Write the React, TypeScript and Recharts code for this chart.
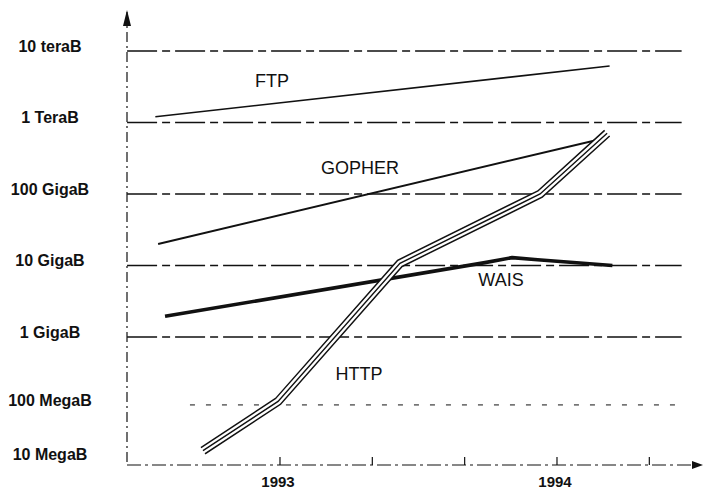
import React from 'react'
import { LineChart, Line, XAxis, YAxis, ReferenceLine, ReferenceDot } from 'recharts'

// x is the date as a fractional year, y is log10(bytes) as spaced in the drawing
const ftpX = [1992.55, 1994.19]
const ftpY = [12.08, 12.79]
const gopherX = [1992.56, 1994.16]
const gopherY = [10.3, 11.77]
const waisX = [1992.585, 1993.74, 1993.838, 1993.93, 1994.2]
const waisY = [9.29, 10.04, 10.11, 10.08, 10.0]
const httpX = [1992.722, 1992.993, 1993.433, 1993.939, 1994.181]
const httpY = [7.41, 8.1, 10.03, 11.0, 11.85]

// axis ticks and labels
const yTicks = [7.3, 8.05, 9, 10, 11, 12, 13]
const yLabels = ['10 MegaB', '100 MegaB', '1 GigaB', '10 GigaB', '100 GigaB', '1 TeraB', '10 teraB']
const xTicks = [1993, 1993 + 1 / 3, 1993 + 2 / 3, 1994, 1994 + 1 / 3]

// horizontal guide lines (level, first year, last year)
const gridLevels = [8.05, 9, 10, 11, 12, 13]
const gridFrom = [1992.675, 1992.448, 1992.448, 1992.448, 1992.448, 1992.448]
const gridTo = [1994.45, 1994.45, 1994.45, 1994.45, 1994.45, 1994.45]

// series names written inside the plot
const seriesNames = ['FTP', 'GOPHER', 'WAIS', 'HTTP']
const nameX = [1992.971, 1993.289, 1993.798, 1993.285]
const nameY = [12.58, 11.36, 9.8, 8.48]

const X_DOMAIN: [number, number] = [1992.4477, 1994.5235]
const Y_DOMAIN: [number, number] = [7.21, 13.545]

const INK = '#111'
const FONT = '"Liberation Sans", Arial, Helvetica, sans-serif'

const toPoints = (xs: number[], ys: number[]) => xs.map((x, i) => ({ x, y: ys[i] }))

const ftpData = toPoints(ftpX, ftpY)
const gopherData = toPoints(gopherX, gopherY)
const waisData = toPoints(waisX, waisY)
const httpData = toPoints(httpX, httpY)

const YTick = (props: any) => {
  const { x, y, payload } = props
  const idx = yTicks.indexOf(payload.value)
  return (
    <g>
      <text
        x={x - 77}
        y={y + 1}
        textAnchor="middle"
        fontFamily={FONT}
        fontWeight="bold"
        fontSize={16}
        fill={INK}
      >
        {yLabels[idx]}
      </text>
    </g>
  )
}

const XTick = (props: any) => {
  const { x, y, payload } = props
  const isYear = Math.abs(payload.value - Math.round(payload.value)) < 0.001
  return (
    <g>
      <line x1={x} y1={y} x2={x} y2={y - 8} stroke={INK} strokeWidth={1.2} />
      {isYear && (
        <text
          x={x - 2}
          y={y + 22}
          textAnchor="middle"
          fontFamily={FONT}
          fontWeight="bold"
          fontSize={15}
          fill={INK}
        >
          {Math.round(payload.value)}
        </text>
      )}
    </g>
  )
}

const UpArrow = ({ cx, cy }: any) => (
  <path d={`M${cx - 4},${cy + 14} L${cx},${cy - 2} L${cx + 4},${cy + 14} Z`} fill={INK} />
)

const RightArrow = ({ cx, cy }: any) => (
  <path d={`M${cx - 10},${cy - 4} L${cx + 1},${cy} L${cx - 10},${cy + 4} Z`} fill={INK} />
)

const App = () => {
  return (
    <div style={{ width: 704, height: 489, background: '#fff' }}>
      <style>{'body{margin:0;background:#fff}'}</style>
      <LineChart width={704} height={489} margin={{ top: 12, right: 2, bottom: 0, left: 0 }}>
        <XAxis
          dataKey="x"
          type="number"
          domain={X_DOMAIN}
          allowDataOverflow
          ticks={xTicks}
          interval={0}
          tickLine={false}
          tickSize={0}
          tickMargin={0}
          height={24}
          axisLine={{ stroke: INK, strokeWidth: 1.2, strokeDasharray: '14 4 3 4' }}
          tick={<XTick />}
        />
        <YAxis
          type="number"
          domain={Y_DOMAIN}
          allowDataOverflow
          ticks={yTicks}
          interval={0}
          tickLine={false}
          tickSize={0}
          tickMargin={0}
          width={127}
          axisLine={{ stroke: INK, strokeWidth: 1.2, strokeDasharray: '10 4 2 4' }}
          tick={<YTick />}
        />

        {gridLevels.map((v, i) => (
          <ReferenceLine
            key={`grid-${i}`}
            segment={[
              { x: gridFrom[i], y: v },
              { x: gridTo[i], y: v },
            ]}
            stroke={INK}
            strokeWidth={i === 0 ? 1 : 1.4}
            strokeDasharray={i === 0 ? '5 11' : '30 5 8 5'}
            ifOverflow="visible"
          />
        ))}

        <Line data={ftpData} dataKey="y" type="linear" stroke={INK} strokeWidth={1.7} dot={false} isAnimationActive={false} />
        <Line data={gopherData} dataKey="y" type="linear" stroke={INK} strokeWidth={2} dot={false} isAnimationActive={false} />
        <Line data={waisData} dataKey="y" type="linear" stroke={INK} strokeWidth={3.6} strokeLinejoin="round" dot={false} isAnimationActive={false} />

        {/* HTTP is drawn as a triple line: black band, white core, thin black centre */}
        <Line data={httpData} dataKey="y" type="linear" stroke={INK} strokeWidth={9} strokeLinecap="butt" dot={false} isAnimationActive={false} />
        <Line data={httpData} dataKey="y" type="linear" stroke="#fff" strokeWidth={6} strokeLinecap="square" dot={false} isAnimationActive={false} />
        <Line data={httpData} dataKey="y" type="linear" stroke={INK} strokeWidth={1.4} strokeLinecap="butt" dot={false} isAnimationActive={false} />

        {seriesNames.map((name, i) => (
          <ReferenceDot
            key={`name-${i}`}
            x={nameX[i]}
            y={nameY[i]}
            ifOverflow="visible"
            shape={({ cx, cy }: any) => (
              <text x={cx} y={cy} textAnchor="middle" dominantBaseline="central" fontFamily={FONT} fontSize={18} fill={INK}>
                {name}
              </text>
            )}
          />
        ))}

        <ReferenceDot x={X_DOMAIN[0]} y={Y_DOMAIN[1]} ifOverflow="visible" shape={<UpArrow />} />
        <ReferenceDot x={X_DOMAIN[1]} y={Y_DOMAIN[0]} ifOverflow="visible" shape={<RightArrow />} />
      </LineChart>
    </div>
  )
}

export default App
